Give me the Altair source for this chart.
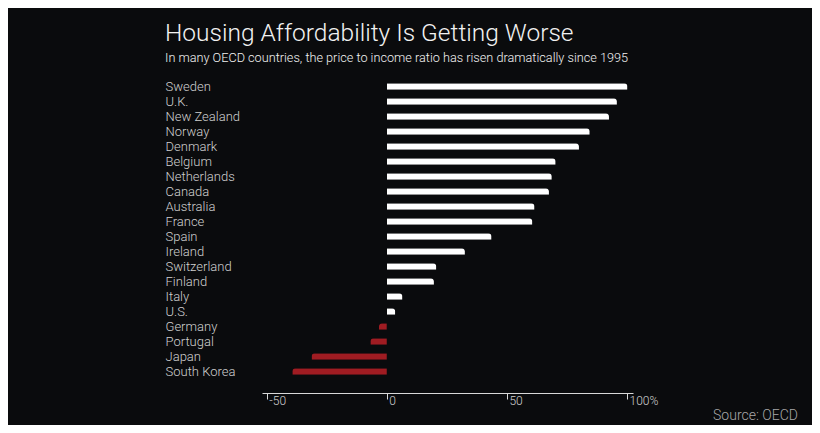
import altair as alt
import pandas as pd

countries = ["Sweden", "U.K.", "New Zealand", "Norway", "Denmark", "Belgium",
             "Netherlands", "Canada", "Australia", "France", "Spain", "Ireland",
             "Switzerland", "Finland", "Italy", "U.S.", "Germany", "Portugal",
             "Japan", "South Korea"]
change = [100.2, 95.8, 92.5, 84.5, 80.0, 70.3, 68.7, 67.5, 61.5, 60.6, 43.6, 32.5,
          20.6, 19.6, 6.5, 3.5, -3.3, -6.9, -31.4, -39.4]
tick_values = [-50, 0, 50, 100]
source_text = ["Source: OECD"]

df = pd.DataFrame({"country": countries, "change": change})
src = pd.DataFrame({"t": source_text})

FONT = "Roboto"
BG = "#0a0b0d"

y_enc = alt.Y("country:N", sort=countries, title=None,
              scale=alt.Scale(paddingInner=0.57, paddingOuter=0.285),
              axis=alt.Axis(domain=False, ticks=False, tickSize=0, labelAlign="left",
                            labelPadding=97, labelFont=FONT, labelFontSize=13,
                            labelFontWeight=300, labelColor="#d0d0d0",
                            labelBaseline="middle"))
x_enc = alt.X("change:Q", title=None,
              scale=alt.Scale(domain=[-52, 102.5], nice=False, zero=False),
              axis=alt.Axis(values=tick_values, grid=False, offset=14,
                            domainColor="#d8d8d8", domainWidth=1,
                            tickColor="#d8d8d8", tickSize=6, tickWidth=1,
                            labelAlign="left", labelOffset=2, labelPadding=-4,
                            labelBaseline="top", labelFont=FONT, labelFontSize=12,
                            labelFontWeight=300, labelColor="#d0d0d0",
                            labelExpr="datum.value == 100 ? '100%' : toString(datum.value)"))

base = alt.Chart(df)
pos = base.transform_filter("datum.change >= 0").mark_bar(
    color="#ffffff", cornerRadiusTopRight=4).encode(y=y_enc, x=x_enc)
neg = base.transform_filter("datum.change < 0").mark_bar(
    color="#a01c22", cornerRadiusTopLeft=4).encode(y=y_enc, x=x_enc)

source = alt.Chart(src).mark_text(
    align="right", baseline="alphabetic", font=FONT, fontSize=14,
    fontWeight=300, color="#a8a8a8").encode(
    text="t:N", x=alt.value(536), y=alt.value(341))

chart = alt.layer(pos, neg, source).properties(
    width=371, height=300,
    autosize=alt.AutoSizeParams(type="none"),
    padding={"left": 254, "top": 71, "right": 179, "bottom": 46},
    background=BG,
    title=alt.TitleParams(
        text="Housing Affordability Is Getting Worse",
        subtitle="In many OECD countries, the price to income ratio has risen dramatically since 1995",
        anchor="start", frame="bounds", font=FONT, fontSize=24.5, fontWeight=300,
        color="#f2f2f2", subtitleFont=FONT, subtitleFontSize=12.7,
        subtitleFontWeight=300, subtitleColor="#f2f2f2", subtitlePadding=6,
        offset=13),
).configure_view(stroke=None)

chart.save("out.html", embed_options={"renderer": "svg", "actions": False})
